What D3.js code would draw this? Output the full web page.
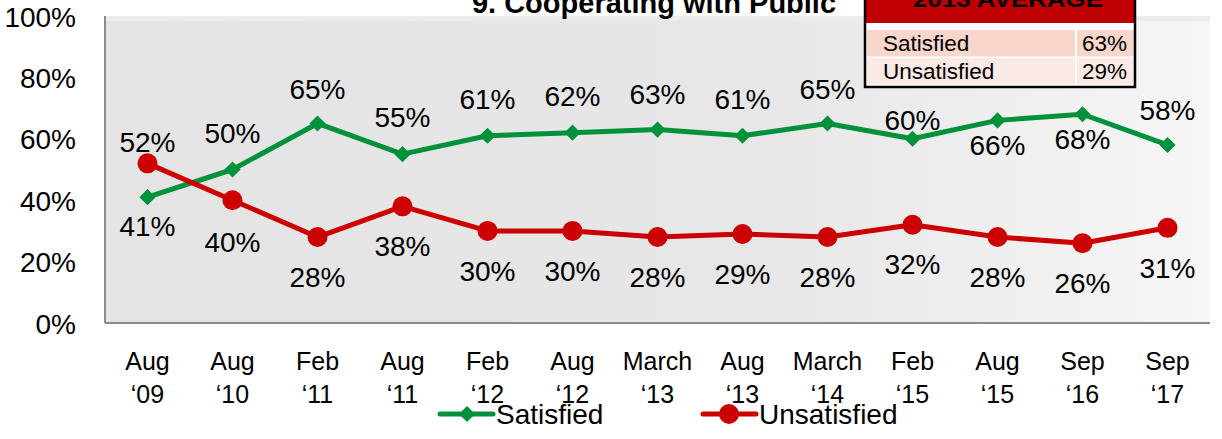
<!DOCTYPE html>
<html>
<head>
<meta charset="utf-8">
<script src="https://cdn.jsdelivr.net/npm/d3@7"></script>
<style>
  html, body { margin: 0; padding: 0; background: #ffffff; }
  svg { display: block; }
  text { font-family: "Liberation Sans", Arial, sans-serif; fill: #000; }
</style>
</head>
<body>
<svg id="chart" width="1222" height="439"></svg>
<script>
// ---- data ----
const categories = ["Aug|‘09", "Aug|‘10", "Feb|‘11", "Aug|‘11", "Feb|‘12", "Aug|‘12", "March|‘13",
                    "Aug|‘13", "March|‘14", "Feb|‘15", "Aug|‘15", "Sep|‘16", "Sep|‘17"];
const satisfied   = [41, 50, 65, 55, 61, 62, 63, 61, 65, 60, 66, 68, 58];
const unsatisfied = [52, 40, 28, 38, 30, 30, 28, 29, 28, 32, 28, 26, 31];
const yTicks = [0, 20, 40, 60, 80, 100];
const seriesNames = ["Satisfied", "Unsatisfied"];
const tableTitle = "2013 AVERAGE";
const tableValues = [63, 29];
const chartTitle = "9. Cooperating with Public";

// ---- label placement (style) ----
const satLabelDy   = [29, -37, -35, -37, -37, -37, -36, -37, -35, -19, 25, 25, -35];
const unsatLabelDy = [-21, 42, 40, 40, 40, 40, 40, 40, 40, 39, 40, 40, 40];

const svg = d3.select("#chart");
const plot = { left: 105, right: 1210, top: 16, bottom: 323 };

const x = d3.scaleBand().domain(categories).range([plot.left, plot.right]).padding(0);
const y = d3.scaleLinear().domain([0, 100]).range([plot.bottom, plot.top]);
const cx = c => x(c) + x.bandwidth() / 2;

const green = "#00913b", red = "#cc0000";

// background gradient
const defs = svg.append("defs");
const grad = defs.append("linearGradient").attr("id", "bg").attr("x1", "0").attr("x2", "1").attr("y1", "0").attr("y2", "0");
grad.append("stop").attr("offset", "0").attr("stop-color", "#e4e4e4");
grad.append("stop").attr("offset", "0.6").attr("stop-color", "#e7e7e7");
grad.append("stop").attr("offset", "1").attr("stop-color", "#f6f6f6");

svg.append("rect").attr("x", plot.left).attr("y", plot.top)
  .attr("width", plot.right - plot.left).attr("height", plot.bottom - plot.top)
  .attr("fill", "url(#bg)");
svg.append("rect").attr("x", plot.left).attr("y", plot.top)
  .attr("width", plot.right - plot.left).attr("height", 5)
  .attr("fill", "#ececec");

// axes borders
svg.append("line").attr("x1", plot.left).attr("x2", plot.left).attr("y1", plot.top).attr("y2", plot.bottom)
  .attr("stroke", "#8a8a8a").attr("stroke-width", 2);
svg.append("line").attr("x1", plot.left).attr("x2", plot.right).attr("y1", plot.bottom).attr("y2", plot.bottom)
  .attr("stroke", "#8a8a8a").attr("stroke-width", 2);

// y axis
const yAxis = svg.append("g").attr("transform", `translate(${plot.left - 29},0)`)
  .call(d3.axisLeft(y).tickValues(yTicks).tickFormat(d => d + "%").tickSize(0).tickPadding(0));
yAxis.select(".domain").remove();
yAxis.selectAll("text").attr("font-size", 28).attr("font-family", "Liberation Sans, Arial, sans-serif")
  .attr("fill", "#000").attr("dy", "0.36em");

// x axis
const xAxis = svg.append("g").attr("transform", `translate(0,${plot.bottom})`)
  .call(d3.axisBottom(x).tickSize(0).tickPadding(0).tickFormat(() => ""));
xAxis.select(".domain").remove();
xAxis.selectAll(".tick").each(function(d) {
  const parts = d.split("|");
  const t = d3.select(this).select("text").attr("font-size", 25).attr("fill", "#000")
    .attr("font-family", "Liberation Sans, Arial, sans-serif").attr("y", 0).attr("dy", null);
  t.text(null);
  t.append("tspan").attr("x", 0).attr("y", 47).text(parts[0]);
  t.append("tspan").attr("x", 0).attr("y", 80).text(parts[1]);
});

// lines
const lineGen = d3.line().x((d, i) => cx(categories[i])).y(d => y(d));
svg.append("path").datum(satisfied).attr("d", lineGen).attr("fill", "none")
  .attr("stroke", green).attr("stroke-width", 5).attr("stroke-linejoin", "round");
svg.append("path").datum(unsatisfied).attr("d", lineGen).attr("fill", "none")
  .attr("stroke", red).attr("stroke-width", 5).attr("stroke-linejoin", "round");

// markers
const diamond = d3.symbol().type(d3.symbolDiamond2).size(190);
svg.selectAll(".satm").data(satisfied).join("path")
  .attr("transform", (d, i) => `translate(${cx(categories[i])},${y(d)}) rotate(0)`)
  .attr("d", d3.symbol().type(d3.symbolSquare).size(130))
  .attr("transform", (d, i) => `translate(${cx(categories[i])},${y(d)}) rotate(45)`)
  .attr("fill", green);
svg.selectAll(".unm").data(unsatisfied).join("circle")
  .attr("cx", (d, i) => cx(categories[i])).attr("cy", d => y(d)).attr("r", 10)
  .attr("fill", red);

// labels
svg.selectAll(".satl").data(satisfied).join("text")
  .attr("x", (d, i) => cx(categories[i])).attr("y", (d, i) => y(d) + satLabelDy[i])
  .attr("dy", "0.36em").attr("text-anchor", "middle").attr("font-size", 28).text(d => d + "%");
svg.selectAll(".unl").data(unsatisfied).join("text")
  .attr("x", (d, i) => cx(categories[i])).attr("y", (d, i) => y(d) + unsatLabelDy[i])
  .attr("dy", "0.36em").attr("text-anchor", "middle").attr("font-size", 28).text(d => d + "%");

// title
svg.append("text").attr("x", 654).attr("y", 13).attr("text-anchor", "middle")
  .attr("font-size", 29).attr("font-weight", "bold").text(chartTitle);

// legend
const legendItems = [
  { name: seriesNames[0], color: green, x0: 440, type: "diamond" },
  { name: seriesNames[1], color: red, x0: 703, type: "circle" }
];
const ly = 414;
legendItems.forEach(it => {
  svg.append("line").attr("x1", it.x0).attr("x2", it.x0 + 53).attr("y1", ly).attr("y2", ly)
    .attr("stroke", it.color).attr("stroke-width", 5).attr("stroke-linecap", "round");
  if (it.type === "diamond") {
    svg.append("path").attr("d", d3.symbol().type(d3.symbolSquare).size(130))
      .attr("transform", `translate(${it.x0 + 27},${ly}) rotate(45)`).attr("fill", it.color);
  } else {
    svg.append("circle").attr("cx", it.x0 + 26).attr("cy", ly).attr("r", 10).attr("fill", it.color);
  }
  svg.append("text").attr("x", it.x0 + 56).attr("y", ly + 10).attr("font-size", 28).text(it.name);
});

// average table
const tb = { left: 865, right: 1135, top: -2, bottom: 87, colX: 1075 };
const tg = svg.append("g");
tg.append("rect").attr("x", tb.left).attr("y", tb.top).attr("width", tb.right - tb.left)
  .attr("height", tb.bottom - tb.top).attr("fill", "#ffffff");
tg.append("rect").attr("x", tb.left).attr("y", tb.top).attr("width", tb.right - tb.left)
  .attr("height", 23 - tb.top).attr("fill", "#c00000");
const rowColors = ["#f8d6cc", "#fbe9e5"];
const rowTops = [30, 58];
seriesNames.forEach((n, i) => {
  tg.append("rect").attr("x", tb.left + 2).attr("y", rowTops[i]).attr("width", tb.colX - tb.left - 2)
    .attr("height", 26.5).attr("fill", rowColors[i]);
  tg.append("rect").attr("x", tb.colX + 2).attr("y", rowTops[i]).attr("width", tb.right - tb.colX - 3)
    .attr("height", 26.5).attr("fill", rowColors[i]);
  tg.append("text").attr("x", 883).attr("y", rowTops[i] + 20.5).attr("font-size", 22.5)
    .attr("fill", "#1a1a1a").text(n);
  tg.append("text").attr("x", 1127).attr("y", rowTops[i] + 20.5).attr("font-size", 22.5)
    .attr("text-anchor", "end").attr("fill", "#1a1a1a").text(tableValues[i] + "%");
});
tg.append("text").attr("x", 1008).attr("y", 7).attr("text-anchor", "middle")
  .attr("font-family", "DejaVu Serif, serif").attr("font-weight", "bold").attr("font-size", 22)
  .attr("textLength", 190).attr("lengthAdjust", "spacingAndGlyphs")
  .attr("fill", "#ffffff").text(tableTitle);
tg.append("rect").attr("x", tb.left).attr("y", tb.top).attr("width", tb.right - tb.left)
  .attr("height", tb.bottom - tb.top).attr("fill", "none").attr("stroke", "#000").attr("stroke-width", 2.5);
</script>
</body>
</html>
